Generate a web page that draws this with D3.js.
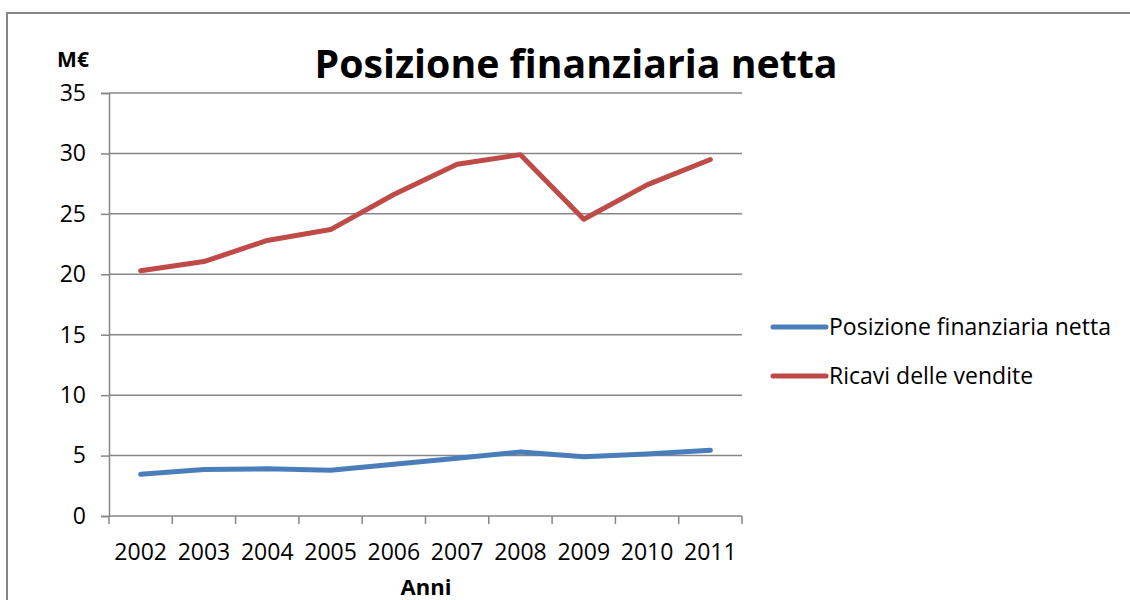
<!DOCTYPE html>
<html>
<head>
<meta charset="utf-8">
<script src="https://cdn.jsdelivr.net/npm/d3@7"></script>
<style>
  body { margin: 0; background: #fff; }
  text { font-family: "Open Sans", Lato, sans-serif; fill: #000; }
</style>
</head>
<body>
<svg width="1130" height="600"></svg>
<script>
"use strict"

var years = ["2002", "2003", "2004", "2005", "2006", "2007", "2008", "2009", "2010", "2011"];
var pfn = [3.45, 3.85, 3.9, 3.78, 4.28, 4.78, 5.3, 4.9, 5.13, 5.44];
var ricavi = [20.3, 21.05, 22.8, 23.7, 26.6, 29.1, 29.9, 24.55, 27.4, 29.5];
var yTicks = [0, 5, 10, 15, 20, 25, 30, 35];
var seriesNames = ["Posizione finanziaria netta", "Ricavi delle vendite"];
var seriesColors = ["#4A7EBB", "#BE4B48"];

var svg = d3.select("svg");
var grey = "#868686";

// outer chart border (only top and left are visible in the frame)
svg.append("path")
    .attr("d", "M7,640V13H1140")
    .attr("fill", "none")
    .attr("stroke", grey)
    .attr("stroke-width", 2);

var x = d3.scaleBand().domain(years).range([109, 742]);
var y = d3.scaleLinear().domain([0, 35]).range([516, 93]);

// gridlines
svg.append("g").selectAll("line")
    .data(yTicks.filter(function(d) { return d > 0; }))
    .enter().append("line")
    .attr("x1", 109).attr("x2", 742)
    .attr("y1", function(d) { return y(d); })
    .attr("y2", function(d) { return y(d); })
    .attr("stroke", grey).attr("stroke-width", 1.5);

// y axis
var yAxis = svg.append("g").attr("transform", "translate(109,0)")
    .call(d3.axisLeft(y).tickValues(yTicks).tickSize(8).tickPadding(15));
yAxis.select(".domain").attr("stroke", grey).attr("stroke-width", 1.5);
yAxis.selectAll(".tick line").attr("stroke", grey).attr("stroke-width", 1.5);
yAxis.selectAll("text").style("font-size", "23px").attr("fill", "#000");

// x axis, ticks on category boundaries
var xAxis = svg.append("g").attr("transform", "translate(0,516)");
xAxis.append("line").attr("x1", 109).attr("x2", 742)
    .attr("stroke", grey).attr("stroke-width", 1.5);
var bounds = years.map(function(d) { return x(d); }).concat([x.range()[1]]);
xAxis.selectAll(".xt").data(bounds).enter().append("line")
    .attr("class", "xt")
    .attr("x1", function(d) { return d; }).attr("x2", function(d) { return d; })
    .attr("y1", 0).attr("y2", 8)
    .attr("stroke", grey).attr("stroke-width", 1.5);
xAxis.selectAll(".xl").data(years).enter().append("text")
    .attr("class", "xl")
    .attr("x", function(d) { return x(d) + x.bandwidth() / 2; })
    .attr("y", 44)
    .attr("text-anchor", "middle")
    .style("font-size", "23px")
    .text(function(d) { return d; });

// titles
svg.append("text").attr("x", 576).attr("y", 78)
    .attr("text-anchor", "middle")
    .style("font-size", "40px").style("font-weight", "bold")
    .attr("textLength", 523).attr("lengthAdjust", "spacingAndGlyphs")
    .text("Posizione finanziaria netta");
svg.append("text").attr("x", 73).attr("y", 67)
    .attr("text-anchor", "middle")
    .style("font-size", "21px").style("font-weight", "bold")
    .text("M€");
svg.append("text").attr("x", 426).attr("y", 595)
    .attr("text-anchor", "middle")
    .style("font-size", "22px").style("font-weight", "bold")
    .text("Anni");

// series lines
var line = d3.line()
    .x(function(d, i) { return x(years[i]) + x.bandwidth() / 2; })
    .y(function(d) { return y(d); });

svg.append("g").selectAll("path")
    .data([pfn, ricavi])
    .enter().append("path")
    .attr("d", line)
    .attr("fill", "none")
    .attr("stroke", function(d, i) { return seriesColors[i]; })
    .attr("stroke-width", 5)
    .attr("stroke-linecap", "round")
    .attr("stroke-linejoin", "round");

// legend
var legend = svg.append("g").selectAll("g")
    .data(seriesNames)
    .enter().append("g")
    .attr("transform", function(d, i) { return "translate(0," + (327 + i * 49) + ")"; });
legend.append("line")
    .attr("x1", 773).attr("x2", 826)
    .attr("stroke", function(d, i) { return seriesColors[i]; })
    .attr("stroke-width", 5)
    .attr("stroke-linecap", "round");
legend.append("text")
    .attr("x", 829).attr("y", 8)
    .style("font-size", "23px")
    .text(function(d) { return d; });
</script>
</body>
</html>
